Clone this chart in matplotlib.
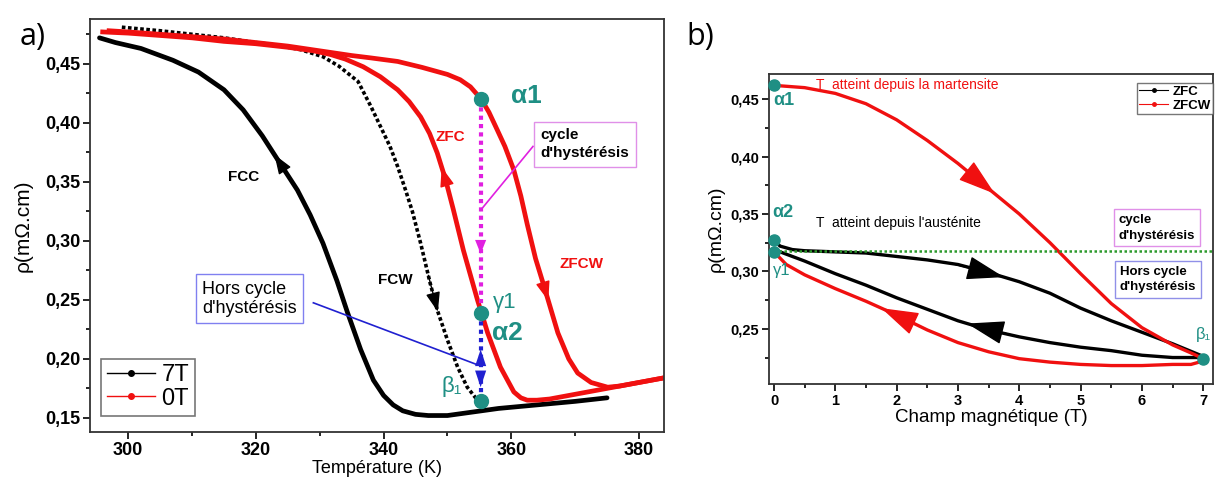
import numpy as np
import matplotlib.pyplot as plt
from matplotlib.lines import Line2D
from matplotlib.ticker import MultipleLocator, FuncFormatter

plt.rcParams['font.family'] = ['Liberation Sans', 'DejaVu Sans']

# ---- panel a) : resistivity vs temperature ----
# 7T cooling (FCC)
T_fcc = [295.5, 298, 302, 307, 311, 315, 318, 321, 323.5, 326.5, 328.5, 330.5, 332.7,
         334.3, 336.4, 338.4, 340, 341.5, 343, 345, 347, 350, 354, 358, 362, 366, 370, 375]
rho_fcc = [0.472, 0.468, 0.463, 0.453, 0.443, 0.428, 0.411, 0.389, 0.368, 0.343, 0.322,
           0.298, 0.266, 0.240, 0.208, 0.182, 0.169, 0.161, 0.156, 0.153, 0.152, 0.152,
           0.155, 0.158, 0.160, 0.162, 0.164, 0.167]
# 7T warming (FCW)
T_fcw = [299, 305, 310, 315, 320, 323, 327, 330.5, 333, 336, 338, 339.5, 341, 342.2,
         343.5, 344.5, 345.8, 347.3, 348.4, 350, 351.6, 353.1, 354.7, 356]
rho_fcw = [0.481, 0.478, 0.475, 0.472, 0.468, 0.466, 0.462, 0.456, 0.448, 0.435, 0.414,
           0.397, 0.380, 0.363, 0.342, 0.325, 0.298, 0.264, 0.2415, 0.216, 0.193, 0.176,
           0.165, 0.162]
# 0T cooling (ZFC)
T_zfc = [296, 300, 305, 310, 315, 320, 325, 329, 331.6, 334, 336.8, 339.5, 342.2, 344,
         345.8, 347.2, 348.4, 349.7, 350.9, 352.5, 354.7, 356.3, 358.3, 360.4, 361.5,
         362.5, 364, 366, 370, 374, 378, 384]
rho_zfc = [0.477, 0.476, 0.474, 0.472, 0.469, 0.467, 0.464, 0.461, 0.458, 0.454, 0.4475,
           0.439, 0.428, 0.418, 0.405, 0.391, 0.3745, 0.352, 0.327, 0.292, 0.250, 0.222,
           0.193, 0.172, 0.167, 0.165, 0.165, 0.166, 0.170, 0.174, 0.178, 0.184]
# 0T warming (ZFCW)
T_zfcw = [297, 300, 305, 310, 315, 320, 325, 330, 335, 338, 342.2, 346, 350, 352, 353.6,
          355.3, 356.5, 357.8, 359, 360.4, 361.5, 362.5, 363.8, 365.1, 367.3, 369, 370.4,
          372.5, 375.1, 377, 380, 384]
rho_zfcw = [0.478, 0.477, 0.475, 0.473, 0.471, 0.468, 0.465, 0.461, 0.457, 0.455, 0.452,
            0.447, 0.441, 0.4365, 0.4305, 0.420, 0.409, 0.394, 0.380, 0.360, 0.338, 0.314,
            0.285, 0.262, 0.222, 0.200, 0.188, 0.180, 0.176, 0.177, 0.180, 0.184]
T_points = [355.2, 355.2, 355.2]           # alpha1, gamma1/alpha2, beta1
rho_points = [0.420, 0.239, 0.164]

# ---- panel b) : resistivity vs field ----
H_zfcw_up = [0, 0.5, 1.0, 1.5, 2.0, 2.5, 3.0, 3.5, 4.0, 4.5, 5.0, 5.5, 6.0, 6.5, 6.8, 7.0]
rho_zfcw_up = [0.462, 0.460, 0.455, 0.446, 0.432, 0.414, 0.394, 0.372, 0.350, 0.325, 0.298,
               0.272, 0.251, 0.236, 0.229, 0.224]
H_zfcw_dn = [7.0, 6.8, 6.5, 6.0, 5.5, 5.0, 4.5, 4.0, 3.5, 3.0, 2.5, 2.0, 1.5, 1.0, 0.5, 0.2, 0]
rho_zfcw_dn = [0.222, 0.219, 0.219, 0.218, 0.218, 0.219, 0.221, 0.224, 0.230, 0.238, 0.249,
               0.262, 0.274, 0.285, 0.297, 0.306, 0.317]
H_zfc_up = [0, 0.1, 0.3, 0.5, 1.0, 1.5, 2.0, 2.5, 3.0, 3.5, 4.0, 4.5, 5.0, 5.5, 6.0, 6.5, 7.0]
rho_zfc_up = [0.327, 0.322, 0.319, 0.318, 0.317, 0.316, 0.313, 0.310, 0.306, 0.299, 0.291,
              0.281, 0.268, 0.257, 0.247, 0.237, 0.226]
H_zfc_dn = [7.0, 6.5, 6.0, 5.5, 5.0, 4.5, 4.0, 3.5, 3.0, 2.5, 2.0, 1.5, 1.0, 0.5, 0.2, 0]
rho_zfc_dn = [0.225, 0.225, 0.227, 0.231, 0.234, 0.238, 0.243, 0.249, 0.257, 0.267, 0.277,
              0.288, 0.298, 0.309, 0.315, 0.319]
H_points = [0, 0, 0, 7]                    # alpha1, alpha2, gamma1, beta1
rho_b_points = [0.462, 0.327, 0.317, 0.2235]
rho_limit = 0.318

RED = '#f01010'
TEAL = '#1f8f84'
MAG = '#e020e0'
BLUE = '#2020d0'


def comma(v, pos):
    return f"{v:.2f}".replace('.', ',')


def curve_arrow(ax, xs, ys, x0, x1, color, hl=0.6, hw=0.22, ms=20):
    xs = np.asarray(xs, float)
    ys = np.asarray(ys, float)
    o = np.argsort(xs)
    y0 = np.interp(x0, xs[o], ys[o])
    y1 = np.interp(x1, xs[o], ys[o])
    ax.annotate('', xy=(x1, y1), xytext=(x0, y0),
                arrowprops=dict(arrowstyle=f'-|>,head_length={hl},head_width={hw}',
                                color=color, lw=1, shrinkA=0, shrinkB=0,
                                mutation_scale=ms))


def vert_arrow(ax, x, y0, y1, color, hl=0.6):
    ax.annotate('', xy=(x, y1), xytext=(x, y0),
                arrowprops=dict(arrowstyle=f'-|>,head_length={hl},head_width=0.2',
                                color=color, lw=0, shrinkA=0, shrinkB=0,
                                mutation_scale=20))


def style_axes(ax, size):
    for s in ax.spines.values():
        s.set_linewidth(1.3)
        s.set_color('#333333')
    ax.tick_params(which='both', direction='out', top=False, right=False, width=1.2)
    ax.tick_params(which='major', length=5, labelsize=size, pad=2)
    ax.tick_params(which='minor', length=3)
    for lab in ax.get_xticklabels() + ax.get_yticklabels():
        lab.set_fontweight('bold')
    ax.yaxis.set_major_formatter(FuncFormatter(comma))


fig = plt.figure(figsize=(12.15, 4.86), dpi=100)

# ================= a) =================
ax = fig.add_axes([0.074, 0.111, 0.4724, 0.85])
ax.plot(T_fcc, rho_fcc, color='black', lw=3.4, solid_capstyle='round',
        solid_joinstyle='round')
ax.plot(T_fcw, rho_fcw, color='black', lw=2.6, linestyle=(0, (1, 0.7)))
ax.plot(T_zfc, rho_zfc, color=RED, lw=3.4, solid_joinstyle='round')
ax.plot(T_zfcw, rho_zfcw, color=RED, lw=3.4, solid_joinstyle='round')

# vertical guides
ax.plot([T_points[0], T_points[1]], [rho_points[0], rho_points[1]], color=MAG, lw=3,
        linestyle=(0, (1, 1)))
ax.plot([T_points[1], T_points[2]], [rho_points[1], rho_points[2]], color=BLUE, lw=3,
        linestyle=(0, (1, 1)))
vert_arrow(ax, 355.2, 0.302, 0.289, MAG, hl=0.5)
vert_arrow(ax, 355.2, 0.195, 0.208, BLUE)
vert_arrow(ax, 355.2, 0.190, 0.176, BLUE)
ax.plot(T_points, rho_points, 'o', color=TEAL, ms=10, zorder=5)

curve_arrow(ax, T_fcc, rho_fcc, 324.5, 322.9, 'black')
curve_arrow(ax, T_fcw, rho_fcw, 347.0, 348.5, 'black')
curve_arrow(ax, T_zfc, rho_zfc, 350.0, 349.1, RED)
curve_arrow(ax, T_zfcw, rho_zfcw, 364.6, 365.8, RED)

ax.text(318, 0.354, 'FCC', fontsize=11, fontweight='bold', ha='center', va='center')
ax.text(341.8, 0.267, 'FCW', fontsize=11, fontweight='bold', ha='center', va='center')
ax.text(350.5, 0.388, 'ZFC', fontsize=11, fontweight='bold', color=RED, ha='center',
        va='center')
ax.text(371.0, 0.280, 'ZFCW', fontsize=11, fontweight='bold', color=RED, ha='center',
        va='center')

ax.text(360.0, 0.423, 'α1', fontsize=19, color=TEAL, fontweight='bold', va='center')
ax.text(357.2, 0.248, 'γ1', fontsize=16, color=TEAL, va='center')
ax.text(357.0, 0.222, 'α2', fontsize=19, color=TEAL, fontweight='bold', va='center')
ax.text(350.6, 0.177, 'β₁', fontsize=16, color=TEAL, ha='center', va='center')

# annotation boxes
ax.plot([363.4, 355.2], [0.380, 0.326], color=MAG, lw=1.2)
ax.text(364.6, 0.382, "cycle\nd'hystérésis", fontsize=11, fontweight='bold',
        va='center', ha='left', linespacing=1.3,
        bbox=dict(boxstyle='square,pad=0.45', fc='white', ec='#e090e8', lw=1))
ax.plot([329.0, 354.7], [0.2475, 0.195], color=BLUE, lw=1.2)
ax.text(311.6, 0.251, "Hors cycle\nd'hystérésis", fontsize=13, va='center', ha='left',
        linespacing=1.15,
        bbox=dict(boxstyle='square,pad=0.35', fc='white', ec='#8080f0', lw=1))

ax.set_xlim(294, 383.9)
ax.set_ylim(0.138, 0.488)
ax.xaxis.set_major_locator(MultipleLocator(20))
ax.xaxis.set_minor_locator(MultipleLocator(10))
ax.yaxis.set_major_locator(MultipleLocator(0.05))
ax.yaxis.set_minor_locator(MultipleLocator(0.025))
style_axes(ax, 13)
ax.set_xlabel('Température (K)', fontsize=13, labelpad=1)
ax.set_ylabel('ρ(mΩ.cm)', fontsize=15)
ax.yaxis.set_label_coords(-0.10, 0.5)

h_leg = [Line2D([0], [0], color='black', lw=1, marker='o', ms=4),
         Line2D([0], [0], color=RED, lw=1, marker='o', ms=4)]
leg = ax.legend(h_leg, ['7T', '0T'], loc='lower left', bbox_to_anchor=(0.02, 0.04),
                borderaxespad=0, fontsize=17, frameon=True, fancybox=False,
                handlelength=2.0, handletextpad=0.3, labelspacing=0.05, borderpad=0.25)
leg.get_frame().set_edgecolor('#555555')
leg.get_frame().set_linewidth(1.2)

fig.text(0.016, 0.955, 'a)', fontsize=22, ha='left', va='top', family='Open Sans')

# ================= b) =================
bx = fig.add_axes([0.633, 0.21, 0.3654, 0.638])
bx.plot(H_zfc_up, rho_zfc_up, color='black', lw=2.4, solid_joinstyle='round')
bx.plot(H_zfc_dn, rho_zfc_dn, color='black', lw=2.4, solid_joinstyle='round')
bx.plot(H_zfcw_up, rho_zfcw_up, color=RED, lw=2.4, solid_joinstyle='round')
bx.plot(H_zfcw_dn, rho_zfcw_dn, color=RED, lw=2.4, solid_joinstyle='round')
bx.axhline(rho_limit, color='#2c9a2c', lw=1.8, linestyle=(0, (1, 1)))
bx.plot(H_points, rho_b_points, 'o', color=TEAL, ms=8, zorder=5, clip_on=False)

big = dict(hl=1.2, hw=0.38, ms=20)
curve_arrow(bx, H_zfcw_up, rho_zfcw_up, 2.9, 3.6, RED, **big)
curve_arrow(bx, H_zfc_up, rho_zfc_up, 2.9, 3.75, 'black', **big)
curve_arrow(bx, H_zfc_dn, rho_zfc_dn, 4.0, 3.15, 'black', **big)
curve_arrow(bx, H_zfcw_dn, rho_zfcw_dn, 2.6, 1.75, RED, **big)

bx.text(0.68, 0.4625, 'T  atteint depuis la martensite', fontsize=10, color=RED,
        va='center')
bx.text(0.68, 0.342, 'T  atteint depuis l\'austénite', fontsize=10, va='center')
bx.text(-0.02, 0.449, 'α1', fontsize=13, color=TEAL, fontweight='bold', va='center')
bx.text(-0.03, 0.351, 'α2', fontsize=13, color=TEAL, fontweight='bold', va='center')
bx.text(-0.02, 0.301, 'γ1', fontsize=12, color=TEAL, va='center')
bx.text(7.0, 0.245, 'β₁', fontsize=12, color=TEAL, ha='center', va='center')

bx.text(5.62, 0.338, "cycle\nd'hystérésis", fontsize=9.5, fontweight='bold', va='center',
        ha='left', linespacing=1.4,
        bbox=dict(boxstyle='square,pad=0.35', fc='white', ec='#e090e8', lw=1))
bx.text(5.64, 0.293, "Hors cycle\nd'hystérésis", fontsize=9.5, fontweight='bold',
        va='center', ha='left', linespacing=1.4,
        bbox=dict(boxstyle='square,pad=0.35', fc='white', ec='#9090e8', lw=1))

bx.set_xlim(-0.08, 7.16)
bx.set_ylim(0.202, 0.472)
bx.xaxis.set_major_locator(MultipleLocator(1))
bx.xaxis.set_minor_locator(MultipleLocator(0.5))
bx.yaxis.set_major_locator(MultipleLocator(0.05))
bx.yaxis.set_minor_locator(MultipleLocator(0.025))
style_axes(bx, 10.5)
bx.set_xlabel('Champ magnétique (T)', fontsize=13.5, labelpad=1)
bx.set_ylabel('ρ(mΩ.cm)', fontsize=14)
bx.yaxis.set_label_coords(-0.10, 0.5)

h_leg2 = [Line2D([0], [0], color='black', lw=0.8, marker='o', ms=2.5),
          Line2D([0], [0], color=RED, lw=0.8, marker='o', ms=2.5)]
leg2 = bx.legend(h_leg2, ['ZFC', 'ZFCW'], loc='upper right', bbox_to_anchor=(1.0, 0.97),
                 borderaxespad=0, prop=dict(size=9.5, weight='bold'), frameon=True,
                 fancybox=False, handlelength=2.2, handletextpad=0.3, labelspacing=0.1,
                 borderpad=0.2)
leg2.get_frame().set_edgecolor('#555555')
leg2.get_frame().set_linewidth(1.0)

fig.text(0.565, 0.955, 'b)', fontsize=22, ha='left', va='top', family='Open Sans')

fig.savefig('out.png', dpi=100, facecolor='white')
